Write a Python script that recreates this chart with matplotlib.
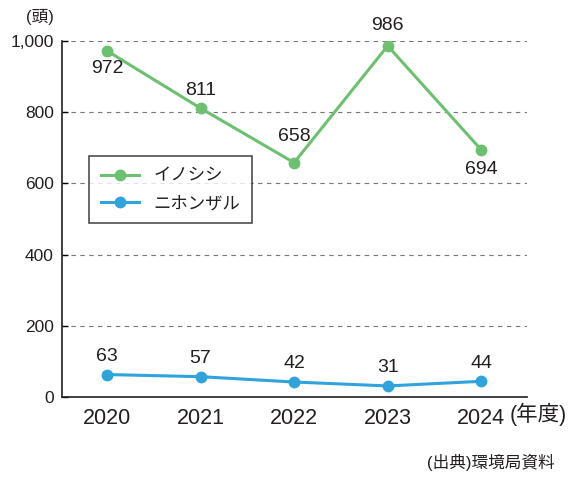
import matplotlib.pyplot as plt

plt.rcParams['font.family'] = ['Liberation Sans', 'Noto Sans CJK JP', 'DejaVu Sans']

years = ['2020', '2021', '2022', '2023', '2024']
inoshishi = [972, 811, 658, 986, 694]
saru = [63, 57, 42, 31, 44]

green = '#6cc070'
blue = '#2fa3dc'
txt = '#231f20'

fig = plt.figure(figsize=(5.77, 4.78), dpi=100)
ax = fig.add_axes([0.1075, 0.1695, 0.806, 0.745])

x = list(range(len(years)))
ax.plot(x, inoshishi, color=green, lw=2.2, marker='o', ms=7.5, label='イノシシ', zorder=3)
ax.plot(x, saru, color=blue, lw=2.2, marker='o', ms=7.5, label='ニホンザル', zorder=3)

# ラベル位置（上/下）
green_off = [-13, 12.5, 18.5, 15, -14]
for i, v in enumerate(inoshishi):
    ax.annotate(str(v), (i, v), xytext=(0, green_off[i]), textcoords='offset points',
                ha='center', va='center', fontsize=14, color=txt)
for i, v in enumerate(saru):
    ax.annotate(str(v), (i, v), xytext=(0, 13), textcoords='offset points',
                ha='center', va='center', fontsize=14, color=txt)

ax.set_xlim(-0.48, 4.49)
ax.set_ylim(0, 1000)
ax.set_yticks([0, 200, 400, 600, 800, 1000])
ax.set_yticklabels(['0', '200', '400', '600', '800', '1,000'], fontsize=12.5, color=txt)
ax.set_xticks(x)
ax.set_xticklabels(years, fontsize=15.5, color=txt)
ax.tick_params(axis='x', length=0, pad=8)
ax.tick_params(axis='y', direction='in', length=4, width=1, pad=6)

for y in [200, 400, 600, 800, 1000]:
    ax.axhline(y, color='#777777', lw=0.8, ls=(0, (4, 4)), zorder=1)

for s in ['top', 'right']:
    ax.spines[s].set_visible(False)
for s in ['left', 'bottom']:
    ax.spines[s].set_linewidth(1.2)
    ax.spines[s].set_color(txt)

leg = ax.legend(loc='upper left', bbox_to_anchor=(0.039, 0.70), fontsize=12.5,
                frameon=True, fancybox=False, edgecolor=txt, handlelength=2.2,
                borderpad=0.7, labelspacing=0.7)
leg.get_frame().set_linewidth(1.2)
for t in leg.get_texts():
    t.set_color(txt)

fig.text(0.07, 0.965, '(頭)', fontsize=12, ha='center', va='center', color=txt)
fig.text(0.883, 0.133, '(年度)', fontsize=15.5, ha='left', va='center', color=txt)
fig.text(0.962, 0.032, '(出典)環境局資料', fontsize=12, ha='right', va='center', color=txt)

fig.savefig('out.png', dpi=100)
